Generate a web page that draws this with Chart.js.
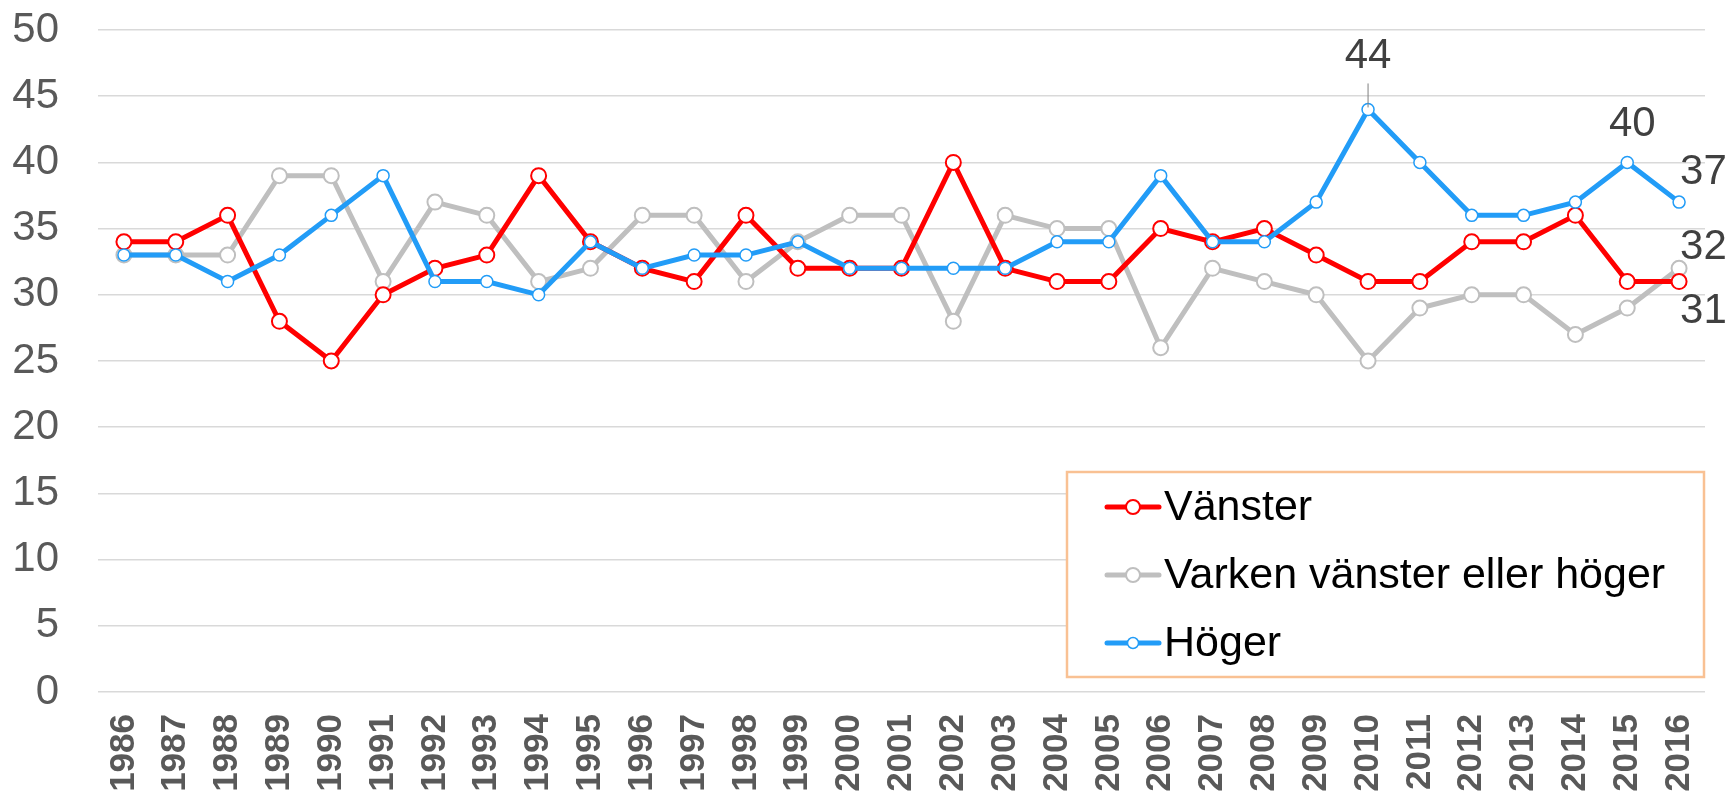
<!DOCTYPE html>
<html><head><meta charset="utf-8">
<script src="https://cdn.jsdelivr.net/npm/chart.js@4"></script>
<style>html,body{margin:0;padding:0;background:#fff;overflow:hidden}</style>
</head><body>
<canvas id="c" width="1727" height="798" style="width:1727px;height:798px;display:block"></canvas>
<script>
const years = ['1986','1987','1988','1989','1990','1991','1992','1993','1994','1995','1996','1997','1998','1999','2000','2001','2002','2003','2004','2005','2006','2007','2008','2009','2010','2011','2012','2013','2014','2015','2016'];
const vanster = [34,34,36,28,25,30,32,33,39,34,32,31,36,32,32,32,40,32,31,31,35,34,35,33,31,31,34,34,36,31,31];
const varken  = [33,33,33,39,39,31,37,36,31,32,36,36,31,34,36,36,28,36,35,35,26,32,31,30,25,29,30,30,27,29,32];
const hoger   = [33,33,31,33,36,39,31,31,30,34,32,33,33,34,32,32,32,32,34,34,39,34,34,37,44,40,36,36,37,40,37];
const seriesNames = ['Vänster','Varken vänster eller höger','Höger'];
const yMin = 0, yMax = 50, yStep = 5;
// labelled points: [dataset index, point index]
const labelled = [[2,24],[2,29],[2,30],[1,30],[0,30]];

const FONT = '"Liberation Sans", Arial, sans-serif';
const colors = ['#ff0000','#bfbfbf','#229cf7'];
const labelStyle = {
  '2,24': {dx:0, dy:-53, align:'center', leader:true},
  '2,29': {dx:5, dy:-38, align:'center'},
  '2,30': {dx:1, dy:-30, align:'left'},
  '1,30': {dx:1, dy:-21, align:'left'},
  '0,30': {dx:1, dy:30, align:'left'}
};

const dataLabelPlugin = {
  id:'dataLabels',
  afterDatasetsDraw(chart){
    const ctx = chart.ctx;
    ctx.save();
    ctx.font = '42px ' + FONT;
    ctx.fillStyle = '#404040';
    ctx.textBaseline = 'middle';
    labelled.forEach(([d,i])=>{
      const meta = chart.getDatasetMeta(d);
      const pt = meta.data[i];
      const st = labelStyle[d+','+i];
      const v = chart.data.datasets[d].data[i];
      const x = pt.x + st.dx, y = pt.y + st.dy;
      if (st.leader){
        ctx.strokeStyle = '#7f7f7f'; ctx.lineWidth = 1;
        ctx.beginPath(); ctx.moveTo(pt.x, y + 27); ctx.lineTo(pt.x, pt.y - 2); ctx.stroke();
      }
      ctx.textAlign = st.align;
      ctx.fillText(String(v), x, y);
    });
    ctx.restore();
  }
};

const legendPlugin = {
  id:'boxLegend',
  afterDatasetsDraw(chart){
    const {ctx, chartArea:a} = chart;
    const w = 637, h = 205;
    const x1 = a.right - 1 - w, y1 = a.bottom - 15 - h;
    ctx.save();
    ctx.fillStyle = '#fff';
    ctx.fillRect(x1, y1, w, h);
    ctx.strokeStyle = '#f9c193';
    ctx.lineWidth = 2.5;
    ctx.strokeRect(x1, y1, w, h);
    const rows = [35, 103, 171];
    const order = [0,1,2];
    order.forEach((d,k)=>{
      const ds = chart.data.datasets[d];
      const cy = y1 + rows[k];
      ctx.strokeStyle = ds.borderColor; ctx.lineWidth = ds.borderWidth; ctx.lineCap = 'round';
      ctx.beginPath(); ctx.moveTo(x1+40, cy); ctx.lineTo(x1+92, cy); ctx.stroke();
      ctx.beginPath(); ctx.arc(x1+66, cy, ds.pointRadius - 0.5, 0, Math.PI*2);
      ctx.fillStyle = '#fff'; ctx.fill();
      ctx.lineWidth = ds.pointBorderWidth; ctx.strokeStyle = ds.pointBorderColor; ctx.stroke();
      ctx.fillStyle = '#000'; ctx.font = '43px ' + FONT; ctx.textAlign = 'left'; ctx.textBaseline = 'middle';
      ctx.fillText(ds.label, x1+97, cy+1);
    });
    ctx.restore();
  }
};

function mk(label, data, color, r, bw, order){
  return {label, data, borderColor: color, backgroundColor: color, borderWidth: 5,
    pointRadius: r, pointHoverRadius: r, pointBorderWidth: bw, pointBackgroundColor: '#fff',
    pointBorderColor: color, tension: 0, order, fill:false};
}

new Chart(document.getElementById('c'), {
  type:'line',
  data:{
    labels: years,
    datasets:[
      mk(seriesNames[0], vanster, colors[0], 7.5, 2, 1),
      mk(seriesNames[1], varken, colors[1], 7.5, 2, 2),
      mk(seriesNames[2], hoger, colors[2], 6, 1.5, 0)
    ]
  },
  options:{
    responsive:false, animation:false, devicePixelRatio:1,
    layout:{padding:{top:30, right:22, left:0, bottom:0}},
    plugins:{legend:{display:false}, tooltip:{enabled:false}},
    scales:{
      x:{
        offset:true,
        grid:{display:false, drawTicks:false},
        border:{display:false},
        ticks:{autoSkip:false, maxRotation:90, minRotation:90, padding:22, color:'#595959',
          font:{family:FONT, size:35, weight:'bold'}},
        afterFit(s){ s.height = 106; s.paddingLeft = 0; s.paddingRight = 0; }
      },
      y:{
        min:yMin, max:yMax,
        grid:{color:'#d9d9d9', lineWidth:1.5, drawTicks:false},
        border:{display:false},
        ticks:{stepSize:yStep, padding:39, color:'#595959', font:{family:FONT, size:42}},
        afterFit(s){ s.width = 98; s.paddingTop = 0; s.paddingBottom = 0; }
      }
    }
  },
  plugins:[legendPlugin, dataLabelPlugin]
});
</script>
</body></html>
